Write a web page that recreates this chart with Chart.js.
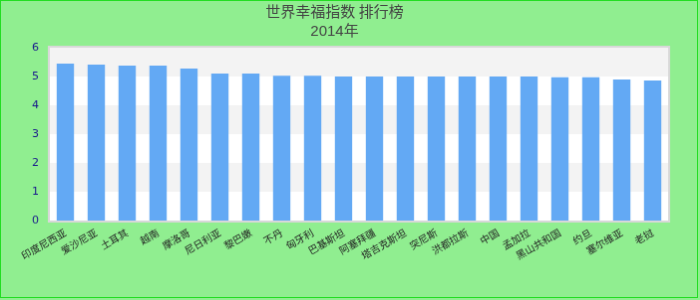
<!DOCTYPE html>
<html>
<head>
<meta charset="utf-8">
<script src="https://cdn.jsdelivr.net/npm/chart.js@4/dist/chart.umd.min.js"></script>
<style>
  html, body { margin: 0; padding: 0; background: #90ee90; }
  canvas { display: block; border: 1px solid #22dd22; }
</style>
</head>
<body>
<canvas id="myChart" width="698" height="298"></canvas>
<script>
var titleText = "世界幸福指数 排行榜";
var subtitleText = "2014年";
var countries = ["印度尼西亚", "爱沙尼亚", "土耳其", "越南", "摩洛哥", "尼日利亚", "黎巴嫩", "不丹", "匈牙利", "巴基斯坦",
  "阿塞拜疆", "塔吉克斯坦", "突尼斯", "洪都拉斯", "中国", "孟加拉", "黑山共和国", "约旦", "塞尔维亚", "老挝"];
var scores = [5.45, 5.41, 5.38, 5.38, 5.28, 5.10, 5.10, 5.03, 5.03, 5.00,
  5.00, 5.00, 5.00, 5.00, 5.00, 5.00, 4.97, 4.97, 4.90, 4.86];
var yTicks = [0, 1, 2, 3, 4, 5, 6];

// alternating bands + frame around the plot area
var bands = {
  id: "bands",
  beforeDatasetsDraw: function(chart){
    var ctx = chart.ctx, a = chart.chartArea, y = chart.scales.y;
    ctx.save();
    for(var i = 0; i < yTicks.length - 1; i++){
      var top = y.getPixelForValue(yTicks[i + 1]);
      var bot = y.getPixelForValue(yTicks[i]);
      ctx.fillStyle = (i % 2 == 0) ? "#ffffff" : "#f3f3f3";
      ctx.fillRect(a.left, top, a.right - a.left, bot - top);
    }
    ctx.strokeStyle = "#d8d8d8";
    ctx.lineWidth = 2;
    ctx.strokeRect(a.left - 1, a.top - 1, a.right - a.left + 2, a.bottom - a.top + 2);
    ctx.restore();
  }
};

var ctx = document.getElementById("myChart").getContext("2d");
var myChart = new Chart(ctx, {
  type: "bar",
  data: {
    labels: countries,
    datasets: [{
      label: "幸福指数",
      data: scores,
      backgroundColor: "#63a9f4",
      borderWidth: 0,
      categoryPercentage: 1.0,
      barPercentage: 0.56
    }]
  },
  options: {
    responsive: false,
    animation: false,
    layout: { padding: { left: 0, right: 29, top: 0, bottom: 0 } },
    plugins: {
      legend: { display: false },
      tooltip: { enabled: false },
      title: {
        display: true,
        text: titleText,
        color: "#444444",
        font: { family: "'Noto Sans CJK SC', 'Liberation Sans'", size: 15, weight: "normal", lineHeight: 1.2 },
        padding: { top: 1, bottom: 0 }
      },
      subtitle: {
        display: true,
        text: subtitleText,
        color: "#444444",
        font: { family: "'Liberation Sans', 'Noto Sans CJK SC'", size: 15, lineHeight: 1.2 },
        padding: { top: 3, bottom: 7 }
      }
    },
    scales: {
      x: {
        grid: { display: false, drawTicks: false },
        border: { display: false },
        afterFit: function(scale){ scale.height = 77; },
        ticks: {
          color: "#222222",
          autoSkip: false,
          minRotation: 30,
          maxRotation: 30,
          padding: 6,
          font: { family: "'Noto Sans CJK SC'", size: 10 }
        }
      },
      y: {
        min: 0,
        max: 6,
        grid: { display: false, drawTicks: false },
        border: { display: false },
        afterFit: function(scale){ scale.width = 49; },
        ticks: {
          stepSize: 1,
          color: "#1a1a8c",
          padding: 11,
          font: { family: "'DejaVu Sans'", size: 11 }
        }
      }
    }
  },
  plugins: [bands]
});
</script>
</body>
</html>
